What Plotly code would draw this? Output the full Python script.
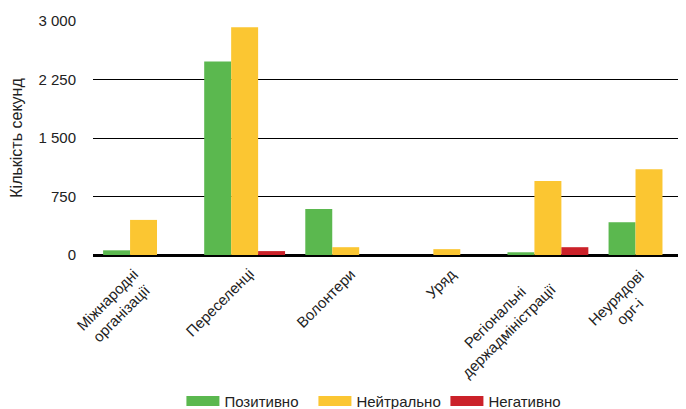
import plotly.graph_objects as go

categories = ["Міжнародні<br>організації", "Переселенці", "Волонтери", "Уряд",
              "Регіональні<br>держадміністрації", "Неурядові<br>орг-і"]
positive = [60, 2480, 590, 0, 35, 420]
neutral = [450, 2920, 100, 75, 950, 1100]
negative = [0, 50, 0, 0, 100, 0]
series_names = ["Позитивно", "Нейтрально", "Негативно"]
colors = ["#5bb84f", "#fbc632", "#cb2129"]
y_ticks = [0, 750, 1500, 2250, 3000]
y_tick_labels = ["0", "750", "1 500", "2 250", "3 000"]

FONT = "Liberation Sans, Arial, sans-serif"

fig = go.Figure()
for name, vals, col in zip(series_names, [positive, neutral, negative], colors):
    fig.add_trace(go.Bar(x=categories, y=vals, name=name, marker_color=col,
                         marker_line_width=0, showlegend=False))
# legend entries drawn as wide swatches
for name, col in zip(series_names, colors):
    fig.add_trace(go.Scatter(x=[None], y=[None], mode="lines", name=name,
                             line=dict(color=col, width=10)))

# rotated, centre-aligned category labels
for cat in categories:
    fig.add_annotation(x=cat, y=0, xref="x", yref="y", text=cat, showarrow=False,
                       textangle=-45, xanchor="right", yanchor="top", align="center",
                       xshift=15, yshift=-8, font=dict(size=15, color="#222"))

# page body has an 8px margin, so the figure is 8px smaller and margins shifted
fig.update_layout(
    width=678, height=401,
    margin=dict(l=85, r=0, t=13, b=154, autoexpand=False),
    paper_bgcolor="white", plot_bgcolor="white",
    barmode="group", bargap=0.2, bargroupgap=0,
    font=dict(family=FONT, size=14, color="#222"),
    legend=dict(orientation="h", x=0.483, xanchor="center", y=-0.625, yanchor="middle",
                font=dict(size=15), itemwidth=33, entrywidth=84),
    xaxis=dict(type="category", range=[-0.5, 5.366], automargin=False,
               showticklabels=False, showgrid=False, ticks=""),
    yaxis=dict(range=[0, 3000], tickvals=y_ticks, ticktext=y_tick_labels, automargin=False,
               showgrid=True, gridcolor="#000", gridwidth=1,
               zeroline=True, zerolinecolor="#000", zerolinewidth=2.5,
               tickfont=dict(size=15), ticklabelstandoff=16,
               title=dict(text="Кількість секунд", font=dict(size=16), standoff=12)),
)
fig.write_html("out.html")
